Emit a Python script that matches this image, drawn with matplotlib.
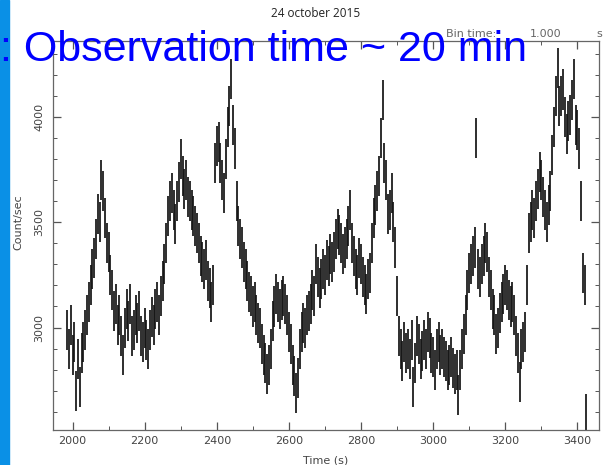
"""Light curve, 24 october 2015"""

import numpy as np
import matplotlib
matplotlib.use('Agg')
import matplotlib.pyplot as plt
from matplotlib.ticker import MultipleLocator

# time bins (s), one value every 5 s
T_START = 1985
T_STEP = 5

rate = [
    2990, 2900, 3010, 2870, 2930, 2700, 2850, 2720, 2880, 2930,
    2990, 3060, 3120, 3200, 3280, 3330, 3420, 3540, 3500, 3700,
    3650, 3520, 3400, 3360, 3250, 3180, 3080, 3110, 3010, 3060,
    2960, 2870, 3000, 3090, 3030, 3110, 2960, 2990, 3060, 3020,
    3080, 2960, 2930, 3000, 2940, 2900, 2990, 3050, 3010, 3090,
    3120, 3060, 3150, 3220, 3300, 3400, 3530, 3600, 3640, 3560,
    3490, 3600, 3690, 3800, 3720, 3660, 3700, 3620, 3600, 3560,
    3530, 3480, 3450, 3400, 3340, 3310, 3280, 3320, 3220, 3190,
    3120, 3200, 3780, 3860, 3880, 3780, 3700, 3640, 3800, 3950,
    4050, 4180, 3960, 3850, 3600, 3480, 3420, 3380, 3310, 3280,
    3220, 3170, 3150, 3100, 3120, 3060, 3020, 3000, 2920, 2870,
    2830, 2780, 2820, 2900, 3030, 3100, 3160, 3120, 3090, 3130,
    3150, 3110, 3060, 2980, 2920, 2820, 2770, 2690, 2760, 2900,
    2980, 3020, 3000, 3060, 3080, 3110, 3180, 3150, 3300, 3240,
    3190, 3230, 3280, 3250, 3320, 3290, 3350, 3310, 3360, 3420,
    3470, 3440, 3400, 3350, 3380, 3420, 3480, 3560, 3400, 3340,
    3280, 3250, 3330, 3300, 3240, 3200, 3160, 3230, 3260, 3400,
    3520, 3580, 3650, 3720, 3900, 4080, 3780, 3700, 3540, 3560,
    3640, 3500, 3380, 3150, 2960, 2900, 2840, 2930, 2880, 2900,
    2850, 2940, 2720, 2830, 2960, 2920, 2850, 2890, 2940, 2900,
    2980, 2950, 2880, 2860, 2800, 2900, 2930, 2870, 2900, 2860,
    2840, 2800, 2820, 2860, 2810, 2780, 2800, 2680, 2800, 2900,
    2970, 3060, 3180, 3260, 3300, 3340, 3380, 3900, 3280, 3240,
    3300, 3340, 3400, 3360, 3240, 3180, 3090, 3060, 2970, 3000,
    3070, 3120, 3160, 3200, 3180, 3130, 3100, 3120, 3060, 2960,
    2880, 2740, 2900, 2930, 2980, 3200, 3450, 3500, 3560, 3520,
    3600, 3660, 3740, 3700, 3620, 3560, 3500, 3580, 3650, 3820,
    3950, 4100, 4230, 4050, 4100, 4130, 4000, 3920, 3980, 4010,
    4080, 4180, 3960, 3940, 3850, 3600, 3260, 3200, 2590,
]
ERR = 95  # half length of the error bars (count/sec)

x_major = [2000, 2200, 2400, 2600, 2800, 3000, 3200, 3400]
y_major = [3000, 3500, 4000]


def main():
    t = T_START + T_STEP * np.arange(len(rate))

    fig = plt.figure(figsize=(6.1, 4.65), dpi=100)
    ax = fig.add_axes([0.0864, 0.0763, 0.8956, 0.8345])

    ax.errorbar(t, rate, yerr=ERR, fmt='none', ecolor='#151515',
                elinewidth=1.25, capsize=0)

    ax.set_xlim(1945, 3460)
    ax.set_ylim(2516, 4358)
    ax.set_xticks(x_major)
    ax.set_yticks(y_major)
    ax.xaxis.set_minor_locator(MultipleLocator(100))
    ax.yaxis.set_minor_locator(MultipleLocator(100))
    ax.tick_params(which='both', direction='in', top=True, right=True,
                   colors='#555555', labelcolor='#444444', labelsize=8)
    ax.tick_params(which='major', length=6, width=0.9)
    ax.tick_params(which='minor', length=3, width=0.7)
    ax.tick_params(axis='x', pad=5)
    ax.tick_params(axis='y', pad=6)
    for lab in ax.get_yticklabels():
        lab.set_rotation(90)
        lab.set_va('center')
    for s in ax.spines.values():
        s.set_color('#666666')
        s.set_linewidth(0.9)

    ax.set_xlabel('Time (s)', fontsize=8, color='#444444')
    ax.xaxis.set_label_coords(0.5, -0.067)
    ax.set_ylabel('Count/sec', fontsize=8, color='#444444')
    ax.yaxis.set_label_coords(-0.053, 0.535)

    fig.text(0.518, 0.97, '24 october 2015', ha='center', va='center',
             fontsize=8.5, family='Open Sans', color='#222222')
    fig.text(0.731, 0.927, 'Bin time:', ha='left', va='center',
             fontsize=8, color='#666666')
    fig.text(0.869, 0.927, '1.000', ha='left', va='center',
             fontsize=8, color='#666666')
    fig.text(0.977, 0.927, 's', ha='left', va='center',
             fontsize=8, color='#666666')

    # blue side bar and slide caption on top
    fig.patches.append(plt.Rectangle((0, 0), 8.5 / 610, 1,
                                     transform=fig.transFigure,
                                     color='#0a90e6', zorder=5))
    fig.text(0.0, 0.869, ': Observation time ~ 20 min', ha='left',
             va='baseline', fontsize=31, family='Liberation Sans',
             color='#0000ff', zorder=6)

    fig.savefig('out.png', dpi=100)


if __name__ == "__main__":
    main()
